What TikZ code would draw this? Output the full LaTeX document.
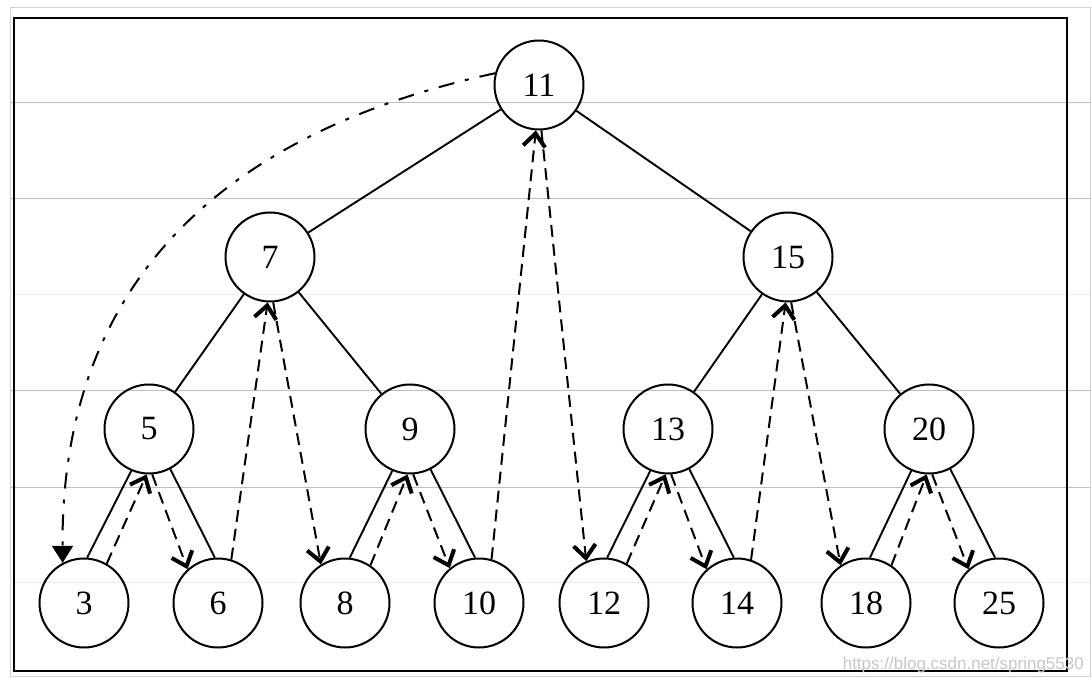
\documentclass[tikz,border=0pt]{standalone}
\usepackage{fontspec}
\setmainfont{Liberation Serif}
\newfontfamily\wmfont{Liberation Sans}
\usetikzlibrary{arrows.meta}
\begin{document}
\begin{tikzpicture}[x=1pt,y=-1pt,
  treenode/.style={circle,draw,line width=2pt,minimum size=89pt,inner sep=0pt,font=\fontsize{34}{34}\selectfont},
  edge/.style={line width=1.9pt},
  trav/.style={line width=2pt,dash pattern=on 12pt off 7pt,-{Straight Barb[length=13pt,width=22pt,line width=4pt]}},
  dashdot/.style={line width=2pt,dash pattern=on 16pt off 11pt on 4pt off 11pt,-{Triangle[length=17pt,width=21pt]}},
  scan/.style={line width=1pt,black!25},
  faintscan/.style={line width=1pt,black!7}]
\useasboundingbox (0,0) rectangle (1092,684);
\fill[white] (0,0) rectangle (1092,684);
% screenshot artefacts
\draw[line width=1pt,black!18] (10,8) rectangle (1090,676);
\draw[scan] (10,103) -- (1090,103);
\draw[scan] (10,199) -- (1090,199);
\draw[faintscan] (10,295) -- (1090,295);
\draw[scan] (10,390) -- (1090,390);
\draw[scan] (10,487) -- (1090,487);
\draw[faintscan] (10,582) -- (1090,582);
% frame
\draw[line width=2.4pt] (14,18) rectangle (1067,671);
% nodes
\node[treenode] (n11) at (539,85) {11};
\node[treenode] (n7) at (270,257) {7};
\node[treenode] (n15) at (788,257) {15};
\node[treenode] (n5) at (149,429) {5};
\node[treenode] (n9) at (410,429) {9};
\node[treenode] (n13) at (668,429) {13};
\node[treenode] (n20) at (929,429) {20};
\node[treenode] (n3) at (84,603) {3};
\node[treenode] (n6) at (218,603) {6};
\node[treenode] (n8) at (345,603) {8};
\node[treenode] (n10) at (479,603) {10};
\node[treenode] (n12) at (604,603) {12};
\node[treenode] (n14) at (737,603) {14};
\node[treenode] (n18) at (866,603) {18};
\node[treenode] (n25) at (999,603) {25};
% tree edges
\draw[edge] (n11) -- (n7);
\draw[edge] (n11) -- (n15);
\draw[edge] (n7) -- (n5);
\draw[edge] (n7) -- (n9);
\draw[edge] (n15) -- (n13);
\draw[edge] (n15) -- (n20);
\draw[edge] (n5.247) -- (n3.86);
\draw[edge] (n5.298) -- (n6.94);
\draw[edge] (n9.247) -- (n8.84);
\draw[edge] (n9.297) -- (n10.95);
\draw[edge] (n13.247) -- (n12.86);
\draw[edge] (n13.298) -- (n14.94);
\draw[edge] (n20.247) -- (n18.85);
\draw[edge] (n20.298) -- (n25.95);
% traversal
\draw[trav] (n3.60) -- (n5.267);
\draw[trav] (n5.274) -- (n6.132);
\draw[trav] (n6.73) -- (n7.267);
\draw[trav] (n7.274) -- (n8.122);
\draw[trav] (n8.56) -- (n9.267);
\draw[trav] (n9.274) -- (n10.130);
\draw[trav] (n10.74) -- (n11.266);
\draw[trav] (n11.273) -- (n12.113);
\draw[trav] (n12.60) -- (n13.267);
\draw[trav] (n13.274) -- (n14.132);
\draw[trav] (n14.72) -- (n15.267);
\draw[trav] (n15.274) -- (n18.124);
\draw[trav] (n18.56) -- (n20.267);
\draw[trav] (n20.274) -- (n25.132);
\draw[dashdot] (n11.165) .. controls (194,139) and (61,308) .. (n3.118);
% watermark
\node[anchor=base east,font=\fontsize{17}{17}\wmfont,text=black!22,inner sep=0pt] (wm) at (1084,669) {https://blog.csdn.net/spring5530};
\end{tikzpicture}
\end{document}
